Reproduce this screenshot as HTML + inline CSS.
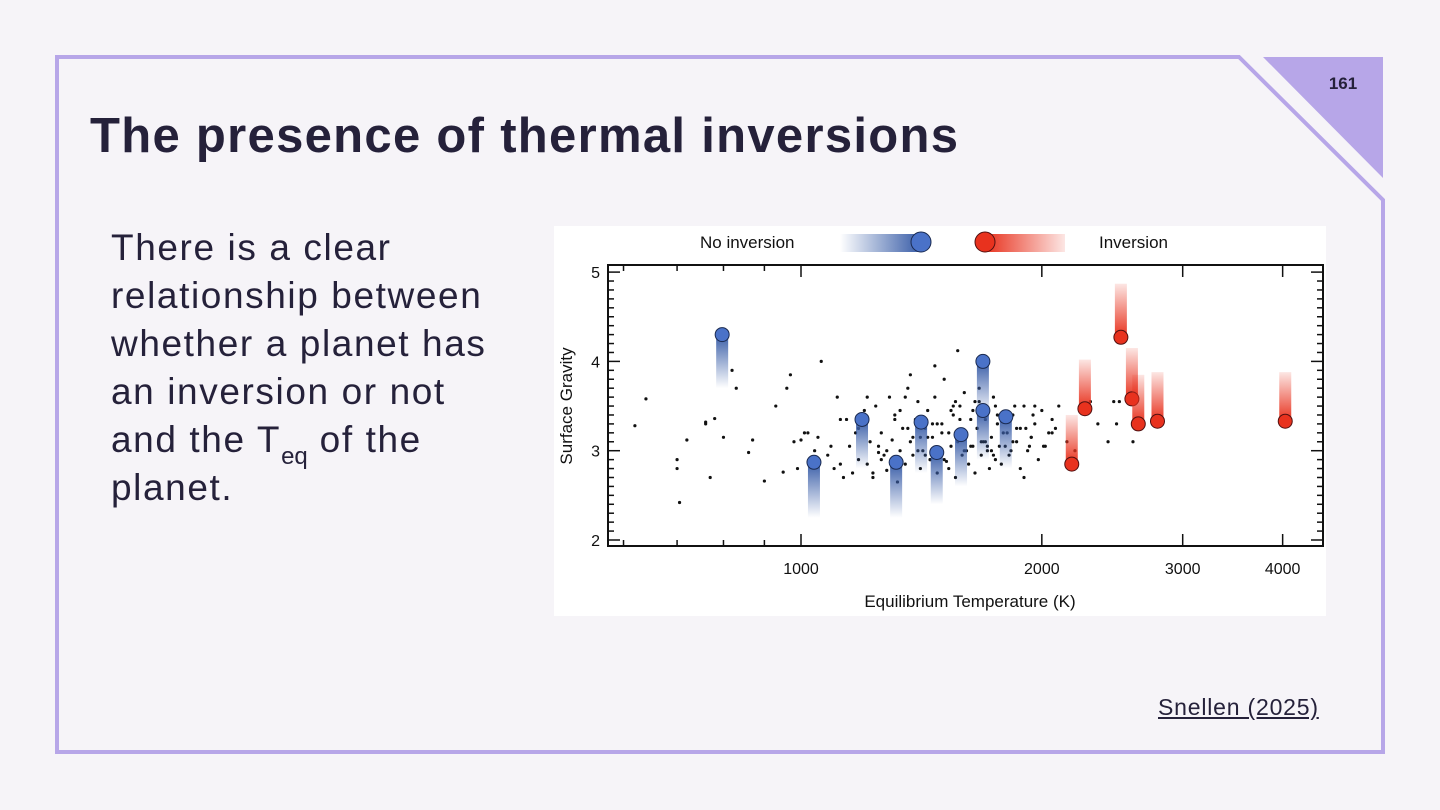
<!DOCTYPE html>
<html><head><meta charset="utf-8">
<style>
html,body{margin:0;padding:0;background:#f6f4f8;}
body{width:1440px;height:810px;position:relative;overflow:hidden;font-family:"Liberation Sans",sans-serif;}
#title{position:absolute;left:90px;top:108px;font-size:49px;font-weight:bold;color:#25213a;margin:0;letter-spacing:1.3px;white-space:nowrap}
#body{position:absolute;left:111px;top:224px;font-size:37px;line-height:48px;color:#25213a;letter-spacing:1.6px;white-space:nowrap}
#body sub{font-size:24px;vertical-align:-12px;line-height:0;letter-spacing:0}
#cite{position:absolute;left:1158px;top:694px;font-size:23px;color:#25213a;text-decoration:underline;letter-spacing:0.8px}
#chartbox{position:absolute;left:554px;top:226px;width:772px;height:390px;background:#fff}
</style></head><body>
<svg width="1440" height="810" style="position:absolute;left:0;top:0">
<path d="M57,57 L1239,57 L1383,200 L1383,752 L57,752 Z" fill="none" stroke="#b7a6e8" stroke-width="4"/>
<polygon points="1263,57 1383,57 1383,178" fill="#b7a6e8"/>
<text x="1343" y="89" font-size="17" font-weight="bold" font-family="Liberation Sans" fill="#25213a" text-anchor="middle">161</text>
</svg>
<h1 id="title">The presence of thermal inversions</h1>
<div id="body">There is a clear<br>relationship between<br>whether a planet has<br>an inversion or not<br>and the T<sub>eq</sub> of the<br>planet.</div>
<div id="cite">Snellen (2025)</div>
<div id="chartbox">
<svg id="chart" width="772" height="390"></svg>
</div>
<script>
const blueT=[797,1038,1192,1315,1413,1478,1585,1688,1688,1803];
const blueG=[4.3,2.87,3.35,2.87,3.32,2.98,3.18,4.0,3.45,3.38];
const blueEnd=[3.7,2.25,2.8,2.25,2.75,2.4,2.6,3.4,2.9,2.8];
const redT=[2180,2264,2511,2592,2640,2790,4030];
const redG=[2.85,3.47,4.27,3.58,3.3,3.33,3.33];
const redEnd=[3.4,4.02,4.87,4.15,3.85,3.88,3.88];
const dotT=[620,640,700,700,705,720,760,760,770,780,800,820,830,860,870,900,930,950,960,970,980,990,1000,1010,1020,1040,1050,1060,1080,1090,1100,1110,1120,1130,1140,1150,1160,1170,1180,1190,1200,1210,1220,1230,1240,1250,1260,1270,1280,1290,1300,1310,1320,1330,1340,1350,1360,1370,1380,1390,1400,1410,1420,1430,1440,1450,1460,1470,1480,1490,1500,1510,1520,1530,1540,1550,1560,1570,1580,1590,1600,1610,1620,1630,1640,1650,1660,1670,1680,1690,1700,1710,1720,1730,1740,1750,1760,1770,1780,1790,1800,1820,1840,1860,1880,1900,1920,1940,1960,1980,2000,2020,2040,2060,2080,2100,2150,2200,2300,2350,2420,2460,2480,2500,2600,1250,1300,1350,1400,1450,1500,1550,1600,1650,1700,1750,1800,1850,1900,1950,1180,1230,1280,1330,1380,1430,1480,1530,1580,1630,1680,1730,1780,1830,1880,1930,1210,1260,1310,1360,1410,1460,1510,1560,1610,1660,1710,1760,1810,1860,1910,1960,2010,2060,1120,1440,1540,1640,1740,1840,1940,1370,1470,1570,1670];
const dotG=[3.28,3.58,2.9,2.8,2.42,3.12,3.3,3.32,2.7,3.36,3.15,3.9,3.7,2.98,3.12,2.66,3.5,2.76,3.7,3.85,3.1,2.8,3.12,3.2,3.2,3.0,3.15,4.0,2.95,3.05,2.8,3.6,2.85,2.7,3.35,3.05,2.75,3.2,2.9,3.3,3.45,2.85,3.1,2.7,3.5,3.05,3.2,2.95,2.78,3.6,3.12,3.4,2.65,3.0,3.25,2.85,3.7,3.1,2.95,3.35,3.55,2.8,3.0,3.25,3.45,2.9,3.15,3.6,2.75,3.0,3.3,3.8,2.88,3.2,3.05,3.5,2.7,3.1,3.35,2.95,3.65,3.2,2.85,3.05,3.45,2.75,3.25,3.55,2.95,3.1,3.35,3.0,2.8,3.15,3.6,2.9,3.3,3.05,2.85,3.2,3.4,2.95,3.1,3.25,2.8,3.5,3.0,3.15,3.3,2.9,3.45,3.05,3.2,3.35,3.25,3.5,3.1,3.0,3.55,3.3,3.1,3.55,3.3,3.55,3.1,2.98,2.88,3.6,3.0,2.9,3.2,3.4,3.0,3.55,3.1,3.5,3.05,3.5,2.7,3.4,3.25,2.75,3.0,3.45,3.15,2.95,3.3,2.8,3.5,3.35,3.1,3.0,3.4,3.0,3.25,3.05,3.6,2.9,3.35,3.25,3.15,3.3,2.9,3.55,3.0,3.25,3.05,3.4,3.2,3.1,3.25,3.5,3.05,3.2,3.35,3.15,3.45,3.05,2.95,3.4,3.15,3.85,3.95,4.12,3.7,2.7,2.5,2.55,2.35,2.2,2.28];
const xTicks=[1000,2000,3000,4000];
const yTicks=[2,3,4,5];

const NS="http://www.w3.org/2000/svg";
const svg=document.getElementById('chart');
const L=54,R=769,T=39,B=320;
const x=t=>247+800*Math.log10(t/1000);
const y=g=>314-89.3*(g-2);
function mk(tag,attrs,parent){const e=document.createElementNS(NS,tag);for(const k in attrs)e.setAttribute(k,attrs[k]);(parent||svg).appendChild(e);return e;}
const defs=mk('defs',{});
const gb=mk('linearGradient',{id:'gblue',x1:0,y1:0,x2:0,y2:1},defs);
mk('stop',{offset:0,'stop-color':'#3a5ea8','stop-opacity':1},gb);mk('stop',{offset:1,'stop-color':'#3a5ea8','stop-opacity':0},gb);
const gr=mk('linearGradient',{id:'gred',x1:0,y1:1,x2:0,y2:0},defs);
mk('stop',{offset:0,'stop-color':'#e8321e','stop-opacity':1},gr);mk('stop',{offset:1,'stop-color':'#e8321e','stop-opacity':0.12},gr);
const lb=mk('linearGradient',{id:'lblue',x1:0,y1:0,x2:1,y2:0},defs);
mk('stop',{offset:0,'stop-color':'#3a5ea8','stop-opacity':0},lb);mk('stop',{offset:1,'stop-color':'#3a5ea8','stop-opacity':1},lb);
const lr=mk('linearGradient',{id:'lred',x1:0,y1:0,x2:1,y2:0},defs);
mk('stop',{offset:0,'stop-color':'#e8321e','stop-opacity':1},lr);mk('stop',{offset:1,'stop-color':'#e8321e','stop-opacity':0.12},lr);

let t=mk('text',{x:146,y:22,'font-size':17,fill:'#111','font-family':'Liberation Sans'});t.textContent='No inversion';

mk('rect',{x:286,y:8,width:80,height:18,fill:'url(#lblue)'});
mk('circle',{cx:367,cy:16,r:10,fill:'#4a72c8',stroke:'#1a2a50','stroke-width':1});
mk('rect',{x:431,y:8,width:80,height:18,fill:'url(#lred)'});
mk('circle',{cx:431,cy:16,r:10,fill:'#e8321e',stroke:'#501010','stroke-width':1});
t=mk('text',{x:545,y:22,'font-size':17,fill:'#111','font-family':'Liberation Sans'});t.textContent='Inversion';


const box=mk('rect',{x:L,y:T,width:R-L,height:B-T,fill:'none',stroke:'#111','stroke-width':2});

for(let g=2;g<=5.0001;g+=0.1){const yy=y(g);const major=Math.abs(g-Math.round(g))<0.01;const len=major?12:6;
 mk('line',{x1:L,x2:L+len,y1:yy,y2:yy,stroke:'#111','stroke-width':1.5});mk('line',{x1:R,x2:R-len,y1:yy,y2:yy,stroke:'#111','stroke-width':1.5});}
yTicks.forEach(g=>{const e=mk('text',{x:L-8,y:y(g)+6,'font-size':16,'text-anchor':'end',fill:'#111'});e.textContent=g;
 });
[600,700,800,900,1000,2000,3000,4000,5000].forEach(v=>{const xx=x(v);if(xx<L||xx>R)return;const major=xTicks.includes(v);const len=major?12:6;
 mk('line',{x1:xx,x2:xx,y1:B,y2:B-len,stroke:'#111','stroke-width':1.5});mk('line',{x1:xx,x2:xx,y1:T,y2:T+len,stroke:'#111','stroke-width':1.5});});
xTicks.forEach(v=>{const e=mk('text',{x:x(v),y:348,'font-size':16,'text-anchor':'middle',fill:'#111'});e.textContent=v;
 });
t=mk('text',{x:416,y:381,'font-size':17,'text-anchor':'middle',fill:'#111'});t.textContent='Equilibrium Temperature (K)';

t=mk('text',{x:0,y:0,'font-size':17,'text-anchor':'middle',fill:'#111',transform:'translate(18,180) rotate(-90)'});t.textContent='Surface Gravity';


dotT.forEach((v,i)=>{const c=mk('circle',{cx:x(v),cy:y(dotG[i]),r:1.6,fill:'#111'});
 });
blueT.forEach((v,i)=>{const xx=x(v),y1=y(blueG[i]),y2=y(blueEnd[i]);
 mk('rect',{x:xx-6,y:y1,width:12,height:y2-y1,fill:'url(#gblue)'});
 const c=mk('circle',{cx:xx,cy:y1,r:7,fill:'#4a72c8',stroke:'#1a2a50','stroke-width':1});
 });
redT.forEach((v,i)=>{const xx=x(v),y1=y(redEnd[i]),y2=y(redG[i]);
 mk('rect',{x:xx-6,y:y1,width:12,height:y2-y1,fill:'url(#gred)'});
 const c=mk('circle',{cx:xx,cy:y2,r:7,fill:'#e8321e',stroke:'#501010','stroke-width':1});
 });
</script>
</body></html>
